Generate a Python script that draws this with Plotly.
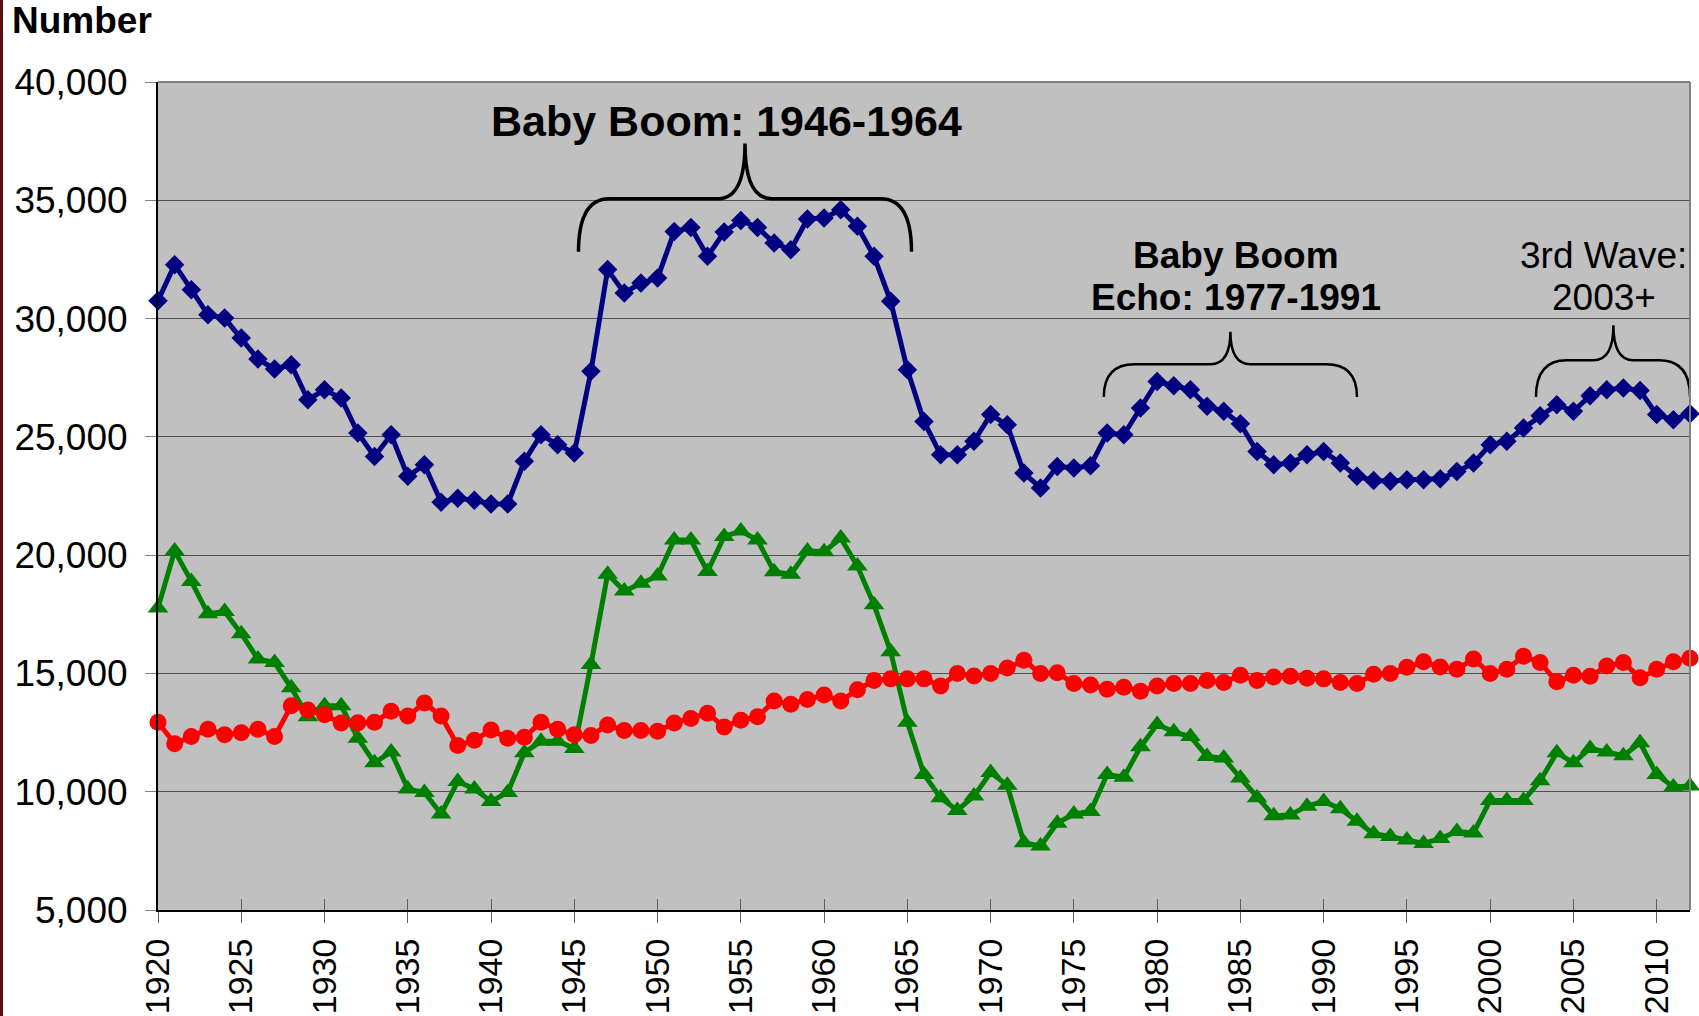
import plotly.graph_objects as go

# ---------------- data ----------------
years = list(range(1920, 2013))

total_births = [
    30750, 32280, 31220, 30160, 30020, 29180, 28290, 27870, 28050, 26570,
    26990, 26640, 25160, 24170, 25090, 23330, 23820, 22240, 22400, 22320,
    22160, 22160, 23970, 25090, 24670, 24320, 27770, 32070, 31080, 31500,
    31710, 33680, 33850, 32630, 33660, 34150, 33850, 33190, 32910, 34210,
    34250, 34600, 33900, 32630, 30730, 27840, 25650, 24240, 24240, 24810,
    25940, 25510, 23470, 22840, 23750, 23680, 23780, 25160, 25090, 26220,
    27340, 27160, 26990, 26290, 26080, 25550, 24380, 23820, 23890, 24240,
    24380, 23890, 23330, 23160, 23120, 23190, 23190, 23230, 23540, 23890,
    24670, 24810, 25370, 25890, 26360, 26080, 26740, 26990, 27060, 26960,
    25940, 25720, 25980,
]

natural_increase = [
    17770, 20180, 18890, 17520, 17620, 16680, 15610, 15460, 14390, 13170,
    13630, 13630, 12260, 11220, 11680, 10120, 9970, 9060, 10430, 10120,
    9590, 9970, 11650, 12130, 12130, 11830, 15380, 19190, 18480, 18810,
    19120, 20640, 20640, 19310, 20790, 21020, 20640, 19300, 19190, 20180,
    20140, 20720, 19540, 17900, 15920, 12940, 10730, 9740, 9210, 9820,
    10810, 10270, 7840, 7710, 8670, 9060, 9160, 10730, 10610, 11900,
    12840, 12530, 12330, 11490, 11420, 10580, 9740, 8980, 9020, 9390,
    9590, 9280, 8750, 8220, 8110, 7960, 7810, 8020, 8320, 8260,
    9630, 9630, 9630, 10460, 11650, 11220, 11830, 11680, 11520, 12070,
    10730, 10200, 10240,
]

deaths = [
    12940, 12030, 12330, 12640, 12410, 12490, 12640, 12330, 13630, 13450,
    13250, 12900, 12910, 12940, 13400, 13200, 13750, 13200, 11950, 12180,
    12610, 12260, 12300, 12940, 12640, 12410, 12380, 12820, 12590, 12590,
    12560, 12900, 13090, 13320, 12740, 13020, 13170, 13830, 13700, 13900,
    14090, 13830, 14310, 14700, 14770, 14770, 14770, 14470, 15000, 14890,
    15000, 15230, 15560, 15000, 15030, 14570, 14510, 14330, 14420, 14250,
    14470, 14570, 14570, 14700, 14620, 14920, 14700, 14850, 14880, 14800,
    14770, 14620, 14570, 14970, 15000, 15260, 15490, 15270, 15180, 15610,
    15000, 15180, 15730, 15460, 14650, 14920, 14880, 15310, 15460, 14820,
    15180, 15490, 15640,
]

y_ticks = [5000, 10000, 15000, 20000, 25000, 30000, 35000, 40000]

# brace annotations: (start year, end year, centre year, base value, bar value, tip value)
braces = [
    (1945.25, 1965.25, 1955.25, 32820, 35070, 37400),
    (1976.8, 1992.0, 1984.4, 26690, 28070, 29440),
    (2002.75, 2012.0, 2007.4, 26690, 28240, 29720),
]

# ---------------- figure ----------------
W, H = 1699, 1016
ML, MR, MT, MB = 158, 9, 82, 106
PW, PH = W - ML - MR, H - MT - MB
FONT = "Liberation Sans, Arial, Helvetica, sans-serif"


def px_x(x):
    return (x - ML) / PW


def px_y(y):
    return 1 - (y - MT) / PH


fig = go.Figure()

fig.add_trace(go.Scatter(
    x=years, y=total_births, mode="lines+markers", name="Births",
    line=dict(color="#000080", width=5),
    marker=dict(symbol="diamond", size=15, color="#000080"),
    cliponaxis=False,
))
fig.add_trace(go.Scatter(
    x=years, y=natural_increase, mode="lines+markers", name="Natural increase",
    line=dict(color="#008000", width=5),
    marker=dict(symbol="triangle-up", size=18, color="#008000"),
    cliponaxis=False,
))
fig.add_trace(go.Scatter(
    x=years, y=deaths, mode="lines+markers", name="Deaths",
    line=dict(color="#FF0000", width=5),
    marker=dict(symbol="circle", size=17, color="#FF0000"),
    cliponaxis=False,
))
# helper trace for the overlay axis (cross ticks)
fig.add_trace(go.Scatter(x=[None], y=[None], xaxis="x2", yaxis="y",
                         showlegend=False, hoverinfo="skip"))


def brace_path(x0, x1, xc, yb, yh, yt, dx, dc):
    return (f"M {x0},{yb} Q {x0},{yh} {x0 + dx},{yh} L {xc - dc},{yh} "
            f"Q {xc},{yh} {xc},{yt} Q {xc},{yh} {xc + dc},{yh} "
            f"L {x1 - dx},{yh} Q {x1},{yh} {x1},{yb}")


shapes = []
for i, (x0, x1, xc, yb, yh, yt) in enumerate(braces):
    dx = 1.85
    dc = 1.6 if i == 0 else 1.2
    shapes.append(dict(
        type="path", xref="x", yref="y",
        path=brace_path(x0, x1, xc, yb, yh, yt, dx, dc),
        line=dict(color="black", width=3.5 if i == 0 else 2.5),
        layer="above",
    ))

# top and right borders of the plot area
shapes.append(dict(type="line", xref="paper", yref="paper", x0=0, x1=1, y0=1, y1=1,
                   line=dict(color="#808080", width=2), layer="above"))
shapes.append(dict(type="line", xref="paper", yref="paper", x0=1, x1=1, y0=0, y1=1,
                   line=dict(color="#808080", width=2), layer="above"))
# thin dark strip at the left edge of the picture
shapes.append(dict(type="rect", xref="paper", yref="paper",
                   x0=px_x(0), x1=px_x(3), y0=px_y(H), y1=px_y(0),
                   line=dict(width=0), fillcolor="#5a1010", layer="above"))

annotations = [
    dict(text="<b>Number</b>", xref="paper", yref="paper", x=px_x(10), y=px_y(20),
         xanchor="left", yanchor="middle", showarrow=False,
         font=dict(family=FONT, size=37, color="black")),
    dict(text="<b>Baby Boom: 1946-1964</b>", xref="x", yref="y", x=1954.16, y=38350,
         xanchor="center", yanchor="middle", showarrow=False,
         font=dict(family=FONT, size=43, color="black")),
    dict(text="<b>Baby Boom</b>", xref="x", yref="y", x=1984.74, y=32650,
         xanchor="center", yanchor="middle", showarrow=False,
         font=dict(family=FONT, size=37, color="black")),
    dict(text="<b>Echo: 1977-1991</b>", xref="x", yref="y", x=1984.74, y=30900,
         xanchor="center", yanchor="middle", showarrow=False,
         font=dict(family=FONT, size=37, color="black")),
    dict(text="3rd Wave:", xref="x", yref="y", x=2006.82, y=32650,
         xanchor="center", yanchor="middle", showarrow=False,
         font=dict(family=FONT, size=37, color="black")),
    dict(text="2003+", xref="x", yref="y", x=2006.82, y=30900,
         xanchor="center", yanchor="middle", showarrow=False,
         font=dict(family=FONT, size=37, color="black")),
]

fig.update_layout(
    width=W, height=H,
    margin=dict(l=ML, r=MR, t=MT, b=MB, autoexpand=False),
    paper_bgcolor="white",
    plot_bgcolor="#C0C0C0",
    showlegend=False,
    shapes=shapes,
    annotations=annotations,
    font=dict(family=FONT, color="black"),
    xaxis=dict(
        range=[1920, 2012], tickmode="linear", tick0=1920, dtick=5,
        ticks="outside", ticklen=11, tickwidth=1, tickcolor="#606060",
        tickangle=-90, tickfont=dict(family=FONT, size=34, color="black"),
        ticklabelstandoff=2,
        showgrid=False, zeroline=False,
        showline=True, linecolor="black", linewidth=2,
    ),
    xaxis2=dict(
        range=[1920, 2012], overlaying="x", anchor="y", side="bottom",
        tickmode="linear", tick0=1920, dtick=5,
        ticks="inside", ticklen=11, tickwidth=1, tickcolor="#606060",
        showticklabels=False, showgrid=False, zeroline=False, showline=False,
    ),
    yaxis=dict(
        range=[5000, 40000], tickmode="array", tickvals=y_ticks,
        tickformat=",", ticks="outside", ticklen=11, tickwidth=1, tickcolor="#808080",
        tickfont=dict(family=FONT, size=37, color="black"),
        ticklabelstandoff=10,
        showgrid=True, gridcolor="#505050", gridwidth=1, zeroline=False,
        showline=True, linecolor="black", linewidth=2,
    ),
)

fig.write_html(
    "out.html",
    config={"displayModeBar": False},
    post_script="document.body.style.margin='0';document.body.style.padding='0';"
                "document.body.style.overflow='hidden';",
)
